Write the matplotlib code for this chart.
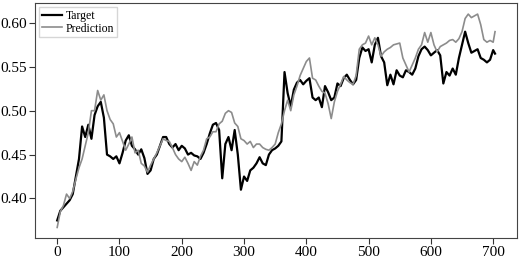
import numpy as np
import matplotlib
matplotlib.use("Agg")
import matplotlib.pyplot as plt

# sample index (every 5 steps, last point at 703)
steps = list(range(0, 705, 5)) + [703]

target = [
    0.375, 0.386, 0.390, 0.394, 0.398, 0.405, 0.425, 0.445, 0.482, 0.470,
    0.484, 0.468, 0.495, 0.505, 0.510, 0.492, 0.450, 0.448, 0.445, 0.448,
    0.440, 0.452, 0.466, 0.472, 0.460, 0.456, 0.450, 0.456, 0.446, 0.428,
    0.432, 0.445, 0.450, 0.460, 0.470, 0.470, 0.462, 0.458, 0.462, 0.455,
    0.460, 0.457, 0.450, 0.452, 0.449, 0.448, 0.445, 0.452, 0.462, 0.474,
    0.484, 0.486, 0.478, 0.423, 0.462, 0.470, 0.455, 0.478, 0.450, 0.410,
    0.425, 0.420, 0.432, 0.435, 0.440, 0.447, 0.440, 0.438, 0.450, 0.455,
    0.457, 0.460, 0.465, 0.544, 0.520, 0.505, 0.524, 0.532, 0.535, 0.530,
    0.534, 0.537, 0.515, 0.512, 0.515, 0.504, 0.528, 0.521, 0.512, 0.515,
    0.531, 0.528, 0.537, 0.541, 0.535, 0.530, 0.535, 0.560, 0.572, 0.568,
    0.570, 0.555, 0.575, 0.583, 0.562, 0.555, 0.529, 0.541, 0.530, 0.546,
    0.540, 0.538, 0.546, 0.544, 0.541, 0.548, 0.562, 0.570, 0.573, 0.569,
    0.563, 0.566, 0.569, 0.563, 0.531, 0.544, 0.540, 0.548, 0.541, 0.560,
    0.575, 0.590, 0.577, 0.566, 0.568, 0.570, 0.560, 0.558, 0.555, 0.558,
    0.569, 0.565,
]

prediction = [
    0.367, 0.385, 0.392, 0.405, 0.400, 0.408, 0.422, 0.435, 0.445, 0.460,
    0.475, 0.500, 0.500, 0.523, 0.512, 0.518, 0.500, 0.490, 0.485, 0.470,
    0.475, 0.465, 0.455, 0.462, 0.470, 0.452, 0.455, 0.440, 0.437, 0.430,
    0.438, 0.445, 0.452, 0.460, 0.468, 0.466, 0.465, 0.458, 0.450, 0.445,
    0.442, 0.447, 0.440, 0.432, 0.442, 0.438, 0.448, 0.455, 0.468, 0.470,
    0.476, 0.476, 0.485, 0.488, 0.497, 0.500, 0.498, 0.486, 0.482, 0.468,
    0.466, 0.462, 0.465, 0.458, 0.462, 0.462, 0.458, 0.456, 0.455, 0.458,
    0.462, 0.475, 0.485, 0.500, 0.512, 0.500, 0.518, 0.528, 0.540, 0.548,
    0.556, 0.560, 0.537, 0.535, 0.528, 0.522, 0.520, 0.508, 0.491, 0.510,
    0.522, 0.530, 0.539, 0.535, 0.532, 0.530, 0.540, 0.570, 0.575, 0.577,
    0.585, 0.575, 0.583, 0.575, 0.562, 0.567, 0.570, 0.572, 0.575, 0.576,
    0.577, 0.560, 0.552, 0.544, 0.552, 0.560, 0.570, 0.575, 0.589, 0.578,
    0.589, 0.575, 0.567, 0.573, 0.575, 0.577, 0.580, 0.581, 0.578, 0.582,
    0.590, 0.605, 0.610, 0.606, 0.608, 0.610, 0.598, 0.581, 0.578, 0.580,
    0.578, 0.590,
]

plt.rcParams['font.family'] = ['Liberation Serif', 'DejaVu Serif']

fig = plt.figure(figsize=(5.19, 2.64), dpi=100)
ax = fig.add_axes([0.068, 0.098, 0.928, 0.889])

ax.plot(steps, target, color='black', lw=1.6, label='Target')
ax.plot(steps, prediction, color='#8c8c8c', lw=1.2, label='Prediction')

ax.set_yticks([0.40, 0.45, 0.50, 0.55, 0.60])
ax.set_xticks([0, 100, 200, 300, 400, 500, 600, 700])
ax.tick_params(labelsize=11, length=4, pad=2, color='#333333')
for s in ax.spines.values():
    s.set_color('#444444')

leg = ax.legend(loc='upper left', fontsize=8.5, borderaxespad=0.3,
                labelspacing=0.05, borderpad=0.25, handlelength=1.7,
                handletextpad=0.3, fancybox=False)
leg.get_frame().set_edgecolor('#cccccc')

fig.savefig('out.png', dpi=100)
